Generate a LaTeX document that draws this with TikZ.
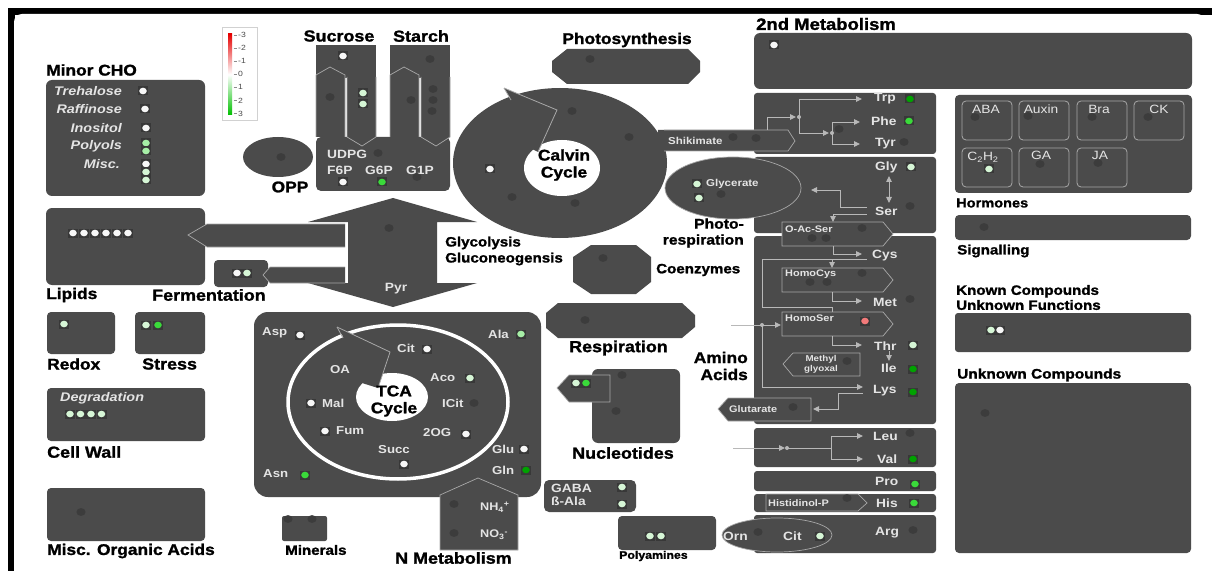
\documentclass[tikz,border=0pt]{standalone}
\usepackage{fontspec}
\newfontfamily\hf{Liberation Sans}[FakeStretch=1.15]
\newfontfamily\hdf{Liberation Sans Bold}[FakeStretch=1.12, FakeBold=1.4]
\usetikzlibrary{arrows.meta}
\definecolor{pan}{HTML}{4B4B4B}
\definecolor{edge}{HTML}{A8A8A8}
\definecolor{lnc}{HTML}{B8B8B8}
\definecolor{lbc}{HTML}{E4E4E4}
\definecolor{gdc}{HTML}{3C3C3C}
\definecolor{dotbg}{HTML}{383838}
\definecolor{wd}{HTML}{F7F7F7}
\definecolor{pg}{HTML}{D6F6D6}
\definecolor{lgr}{HTML}{A6EEA6}
\definecolor{mg}{HTML}{3ADA3A}
\definecolor{dg}{HTML}{00A200}
\definecolor{rd}{HTML}{F27A7A}
\newcommand\HDs[1]{\hdf\fontsize{#1}{#1}\selectfont}
\newcommand\HFs[1]{\hf\bfseries\fontsize{#1}{#1}\selectfont}
\newcommand\ITs[1]{\hf\bfseries\itshape\fontsize{#1}{#1}\selectfont}
\newcommand\RGs[1]{\hf\fontsize{#1}{#1}\selectfont}
\newcommand\mdot[3]{\fill[dotbg] ({#1-5},{#2-4.5}) rectangle ({#1+5},{#2+4.5}); \fill[#3] (#1,#2) ellipse (3.8 and 3.3);}
\newcommand\ndot[2]{\fill[gdc] (#1,#2) ellipse (4.6 and 3.9);}
\tikzset{
  hd/.style={font=\HDs{#1}, text=black, inner sep=0pt},
  hd/.default=15.5,
  lb/.style={font=\HFs{#1}, text=lbc, inner sep=0pt},
  lb/.default=11.5,
  itl/.style={font=\ITs{#1}, text=lbc, inner sep=0pt},
  itl/.default=12.5,
  rg/.style={font=\RGs{#1}, text=lbc, inner sep=0pt},
  rg/.default=12,
  panel/.style={fill=pan},
  outl/.style={fill=pan, draw=edge, line width=0.7pt},
  ln/.style={draw=lnc, line width=0.9pt},
  arr/.style={draw=lnc, line width=0.9pt, -{Triangle[length=6pt,width=5.5pt]}},
  junc/.style={fill=lnc},
}
\begin{document}
\begin{tikzpicture}[x=1pt,y=-1pt]
\useasboundingbox (0,0) rectangle (1212,572);
\fill[white] (0,0) rectangle (1212,572);
\fill[black] (8,8) rectangle (1212,15);
\fill[black] (8,8) rectangle (15,571);
\fill[white, rounded corners=8] (14,590) -- (14,14) -- (1205,14) -- (1205,590) -- cycle;

% ---------- legend
\filldraw[fill=white, draw=black!18, line width=1pt] (222,28) rectangle (257,121);
\shade[top color=red!90!black, bottom color=green!75!black, middle color=white] (228,34) rectangle (232,115);
\foreach \v [count=\i from 0] in {-3,-2,-1,0,1,2,3} {
  \draw[black!45, line width=0.6pt] (233.5,{35+13.1*\i}) -- (236.5,{35+13.1*\i});
  \node[font=\RGs{7.5}, text=black!70, anchor=west, inner sep=0pt] (leg\i) at (238,{35+13.1*\i}) {\v};
}

% ---------- Minor CHO
\node[hd, anchor=west] (tMinor) at (46,70) {Minor CHO};
\fill[panel, rounded corners=6] (46,80) rectangle (205,196);
\node[itl, anchor=east] (cTre) at (122,91) {Trehalose};
\node[itl, anchor=east] (cRaf) at (122,109) {Raffinose};
\node[itl, anchor=east] (cIno) at (122,128) {Inositol};
\node[itl, anchor=east] (cPol) at (122,146) {Polyols};
\node[itl, anchor=east] (cMis) at (120,164) {Misc.};
\mdot{143}{91}{wd} \mdot{145}{109}{wd} \mdot{146}{128}{wd}
\mdot{146}{143}{lgr} \mdot{146}{151}{lgr}
\mdot{146}{164}{wd} \mdot{146}{172}{pg} \mdot{146}{180}{pg}

% ---------- OPP
\fill[panel] (278,157) ellipse (35 and 20);
\ndot{281}{157}
\node[hd] (tOPP) at (290,187) {OPP};

% ---------- Sucrose / Starch
\node[hd=16] (tSuc) at (339,36) {Sucrose};
\node[hd=16] (tSta) at (421,36) {Starch};
\fill[panel] (316,45) rectangle (376,78);
\fill[panel] (390,45) rectangle (450,78);
\fill[panel, rounded corners=5] (316,137) rectangle (450,191);
\fill[panel] (316,137) -- (316,75) -- (330,67) -- (345,75) -- (345,137) -- cycle;
\draw[edge, line width=0.7pt] (316,137) -- (316,75) -- (330,67) -- (345,75) -- (345,137);
\fill[panel] (347,77) -- (376,77) -- (376,137) -- (362,146) -- (347,137) -- cycle;
\draw[edge, line width=0.7pt] (347,77) -- (347,137) -- (362,146) -- (376,137) -- (376,77);
\fill[panel] (390,137) -- (390,75) -- (404,67) -- (419,75) -- (419,137) -- cycle;
\draw[edge, line width=0.7pt] (390,137) -- (390,75) -- (404,67) -- (419,75) -- (419,137);
\fill[panel] (421,77) -- (450,77) -- (450,137) -- (436,146) -- (421,137) -- cycle;
\draw[edge, line width=0.7pt] (421,77) -- (421,137) -- (436,146) -- (450,137) -- (450,77);
\mdot{343}{56}{wd}
\mdot{363}{93}{pg} \mdot{363}{104}{pg}
\ndot{330}{97}
\ndot{430}{59} \ndot{411}{100} \ndot{433}{89} \ndot{433}{100} \ndot{432}{111}
\node[lb=12, anchor=west] (sUDPG) at (327,154) {UDPG};
\node[lb=12, anchor=west] (sF6P) at (327,170) {F6P};
\node[lb=12, anchor=west] (sG6P) at (365,170) {G6P};
\node[lb=12, anchor=west] (sG1P) at (406,170) {G1P};
\ndot{378}{153}
\mdot{343}{182}{wd} \mdot{382}{182}{mg}
\ndot{417}{177}

% ---------- Calvin cycle
\fill[panel] (560,163) ellipse (107 and 75);
\fill[white] (562,168) ellipse (38 and 28);
\fill[panel] (504,88) -- (557,110) -- (538,152) -- (526,146) -- (513,103) -- cycle;
\draw[edge, line width=0.8pt] (504,88) -- (557,110) -- (538,152);
\draw[edge, line width=0.8pt] (504,88) -- (511,100);
\node[hd, align=center] (tCalvin) at (564,165) {Calvin\\[1.5pt]Cycle};
\ndot{572}{111} \mdot{490}{169}{wd} \ndot{512}{197} \ndot{575}{203} \ndot{629}{137}

% ---------- Photosynthesis
\node[hd] (tPhot) at (627,40) {Photosynthesis};
\fill[panel] (567,49) -- (688,49) -- (700,61) -- (700,72) -- (688,84) -- (567,84) -- (552,72) -- (552,61) -- cycle;
\ndot{590}{59}

% ---------- 2nd metabolism
\node[hd=16.5, anchor=west] (t2nd) at (756,24) {2nd Metabolism};
\fill[panel, rounded corners=6] (754,33) rectangle (1192,89);
\mdot{774}{45}{wd}

% ---------- amino acid boxes
\foreach \ya/\yb in {93/154, 157/233, 236/424, 428/467, 471/491, 494/512, 515/553}
  \fill[panel, rounded corners=3] (754,\ya) rectangle (936,\yb);

% Shikimate
\fill[panel] (658,130) -- (788,130) -- (795,141) -- (788,151) -- (658,151) -- cycle;
\draw[edge, line width=0.7pt] (664,130) -- (788,130) -- (795,141) -- (788,151) -- (664,151);
\node[lb=10, anchor=west] (shik) at (668,141) {Shikimate};
\ndot{733}{137} \ndot{756}{138}
% aromatic
\draw[arr] (767,130) -- (767,117) -- (796,117);
\fill[junc] (799,117) circle (2);
\draw[arr] (799,117) -- (799,99) -- (862,99);
\draw[arr] (799,117) -- (799,133) -- (829,133);
\fill[junc] (832,133) circle (2);
\draw[arr] (832,133) -- (832,122) -- (860,122);
\draw[arr] (832,133) -- (832,144) -- (860,144);
\node[lb=12, anchor=west] (aTrp) at (874,99) {Trp};
\node[lb=12, anchor=west] (aPhe) at (871,121) {Phe};
\node[lb=12, anchor=west] (aTyr) at (875,144) {Tyr};
\mdot{910}{99}{dg} \mdot{909}{121}{mg} \ndot{904}{142} \ndot{839}{129}

% photorespiration
\filldraw[outl] (733,188) ellipse (68 and 31);
\node[lb=10, anchor=west] (glyc) at (706,184) {Glycerate};
\mdot{697}{184}{pg} \mdot{699}{198}{pg} \ndot{721}{194}
\node[hd=14, anchor=east, align=right] (tPhr) at (744,233) {Photo-\\[2pt]respiration};
\node[lb=12, anchor=west] (aGly) at (875,167) {Gly};
\node[lb=12, anchor=west] (aSer) at (875,211) {Ser};
\mdot{911}{167}{pg} \ndot{910}{206}
\draw[ln, {Triangle[length=6pt,width=5.5pt]}-{Triangle[length=6pt,width=5.5pt]}] (889,176) -- (889,203);
\draw[arr] (867,207) -- (840,207) -- (840,190) -- (811,190);
\draw[arr] (867,214) -- (833,214) -- (833,222);
% O-Ac-Ser
\filldraw[outl] (782,222) -- (883,222) -- (893,234) -- (883,246) -- (782,246) -- cycle;
\node[lb=9.5, anchor=west] (oac) at (785,229) {O-Ac-Ser};
\ndot{862}{228} \ndot{812}{238} \ndot{826}{238}
\draw[arr] (833,246) -- (833,254) -- (862,254);
\node[lb=12, anchor=west] (aCys) at (872,256) {Cys};
\draw[ln] (867,259) -- (762,259) -- (762,307) -- (832,307) -- (832,312);
\draw[arr] (832,259) -- (832,268);
% HomoCys
\filldraw[outl] (782,268) -- (883,268) -- (893,280) -- (883,292) -- (782,292) -- cycle;
\node[lb=9.5, anchor=west] (hcys) at (785,274) {HomoCys};
\ndot{862}{273} \ndot{810}{282} \ndot{827}{282}
\draw[arr] (832,292) -- (832,301) -- (862,301);
\node[lb=12, anchor=west] (aMet) at (873,302) {Met};
\ndot{910}{299}
% HomoSer
\filldraw[outl] (782,312) -- (883,312) -- (893,324) -- (883,336) -- (782,336) -- cycle;
\node[lb=9.5, anchor=west] (hser) at (785,318) {HomoSer};
\mdot{865}{321}{rd}
\draw[arr] (731,325) -- (781,325);
\fill[junc] (762,325) circle (2);
\draw[arr] (762,325) -- (762,387) -- (863,387);
\draw[arr] (832,336) -- (832,345) -- (862,345);
\node[lb=12, anchor=west] (aThr) at (874,346) {Thr};
\mdot{913}{345}{pg}
\draw[arr] (889,351) -- (889,361);
\node[lb=12, anchor=west] (aIle) at (881,368) {Ile};
\mdot{913}{369}{dg}
% Methyl glyoxal
\filldraw[outl] (783,364) -- (793,353) -- (860,353) -- (860,376) -- (793,376) -- cycle;
\node[lb=8.5, align=center] (mgly) at (821,364.5) {Methyl\\[1pt]glyoxal};
\ndot{847}{361}
\node[lb=12, anchor=west] (aLys) at (873,391) {Lys};
\mdot{913}{392}{dg}
% Glutarate
\filldraw[outl] (718,409) -- (728,398) -- (811,398) -- (811,421) -- (728,421) -- cycle;
\node[lb=9.5, anchor=west] (glut) at (729,409) {Glutarate};
\ndot{793}{407}
\draw[arr] (863,393) -- (838,393) -- (838,409) -- (813,409);
\node[hd, anchor=east, align=right] (tAmino) at (748,366) {Amino\\[1.5pt]Acids};
% Leu / Val
\draw[arr] (733,448) -- (785,448);
\fill[junc] (787,448) circle (2);
\draw[ln] (787,448) -- (831,448);
\draw[arr] (831,448) -- (831,436) -- (863,436);
\draw[arr] (831,448) -- (831,459) -- (863,459);
\node[lb=12, anchor=west] (aLeu) at (873,436) {Leu};
\node[lb=12, anchor=west] (aVal) at (877,459) {Val};
\ndot{910}{433} \mdot{913}{459}{dg}
% Pro / His / Arg
\node[lb=12, anchor=west] (aPro) at (875,481) {Pro};
\mdot{915}{484}{mg}
\filldraw[outl] (766,494) -- (858,494) -- (867,503) -- (858,511) -- (766,511) -- cycle;
\node[lb=9.5, anchor=west] (hisp) at (768,503) {Histidinol-P};
\ndot{847}{498}
\node[lb=12, anchor=west] (aHis) at (876,503) {His};
\mdot{914}{503}{mg}
\node[lb=12, anchor=west] (aArg) at (875,533) {Arg};
\ndot{913}{530}
\filldraw[outl] (777,535) ellipse (55 and 17);
\node[lb=12, anchor=west] (aOrn) at (723,536) {Orn};
\node[lb=12, anchor=west] (aCit2) at (783,536) {Cit};
\ndot{758}{532} \mdot{820}{536}{pg}

% ---------- Hormones
\fill[panel, rounded corners=4] (955,95) rectangle (1192,193);
\foreach \xa/\ya in {962/101, 1019/101, 1077/101, 1134/101, 962/148, 1019/148, 1077/148}
  \draw[edge, line width=0.8pt, rounded corners=4] (\xa,\ya) rectangle ({\xa+50},{\ya+39});
\node[rg] (hABA) at (986,109) {ABA};
\node[rg] (hAux) at (1041,109) {Auxin};
\node[rg] (hBra) at (1099,109) {Bra};
\node[rg] (hCK) at (1159,109) {CK};
\node[rg] (hC2) at (983,157) {C\textsubscript{2}H\textsubscript{2}};
\node[rg] (hGA) at (1041,155) {GA};
\node[rg] (hJA) at (1100,155) {JA};
\ndot{975}{117} \ndot{1028}{116} \ndot{1092}{117} \ndot{1148}{117}
\ndot{1040}{164} \ndot{1098}{163} \mdot{989}{169}{pg}
\node[hd=13, anchor=west] (tHorm) at (956,203) {Hormones};
\fill[panel, rounded corners=4] (955,215) rectangle (1191,240);
\ndot{984}{227}
\node[hd=13.5, anchor=west] (tSig) at (957,251) {Signalling};
\node[hd=13.5, anchor=west, align=left] (tKnown) at (956,297.5) {Known Compounds\\[1.5pt]Unknown Functions};
\fill[panel, rounded corners=3] (955,313) rectangle (1191,352);
\mdot{991}{330}{pg} \mdot{1000}{330}{wd}
\node[hd=13.8, anchor=west] (tUnk) at (957,375) {Unknown Compounds};
\fill[panel, rounded corners=4] (955,383) rectangle (1191,553);
\ndot{985}{413}

% ---------- Glycolysis
\fill[panel] (393,198) -- (477,222) -- (437,222) -- (437,283) -- (477,283) -- (393,307) -- (308,283) -- (348,283) -- (348,222) -- (308,222) -- cycle;
\ndot{389}{228}
\node[lb=12] (pyr) at (396,289) {Pyr};
\node[hd=13.5, anchor=west, align=left] (tGly) at (445,251) {Glycolysis\\[2.5pt]Gluconeogensis};

% ---------- Lipids / Fermentation
\fill[panel, rounded corners=6] (46,208) rectangle (205,285);
\filldraw[outl] (345,224) -- (207,224) -- (188,235) -- (207,247) -- (345,247);
\foreach \xx in {73,84,95,106,117,128} {\mdot{\xx}{233}{wd}}
\fill[panel, rounded corners=4] (214,260) rectangle (268,287);
\filldraw[outl] (345,267) -- (270,267) -- (263,275) -- (270,283) -- (345,283);
\mdot{237}{273}{wd} \mdot{247}{273}{pg}
\node[hd, anchor=west] (tLip) at (46,295) {Lipids};
\node[hd=16, anchor=west] (tFer) at (152,295) {Fermentation};

% ---------- Redox / Stress / Cell wall / Misc
\fill[panel, rounded corners=4] (47,312) rectangle (115,354);
\mdot{64}{324}{pg}
\fill[panel, rounded corners=4] (135,312) rectangle (205,354);
\mdot{146}{325}{pg} \mdot{158}{325}{mg}
\node[hd, anchor=west] (tRed) at (47,364) {Redox};
\node[hd=16, anchor=west] (tStr) at (142,364) {Stress};
\fill[panel, rounded corners=4] (47,388) rectangle (205,441);
\node[itl=12.5, anchor=west] (deg) at (60,398) {Degradation};
\foreach \xx in {70,80.5,91,101.5} {\mdot{\xx}{414}{pg}}
\node[hd=16, anchor=west] (tCW) at (47,452) {Cell Wall};
\fill[panel, rounded corners=4] (47,488) rectangle (205,541);
\ndot{81}{512}
\node[hd, anchor=west] (tMOA) at (47,551) {Misc. Organic Acids};

% ---------- TCA
\fill[panel, rounded corners=14] (254,312) rectangle (541,497);
\draw[white, line width=3.5pt] (398,402) ellipse (110 and 77);
\fill[white] (392,397) ellipse (36 and 24);
\fill[panel] (337,327) -- (390,352) -- (378,388) -- (362,383) -- (344,338) -- cycle;
\draw[edge, line width=0.8pt] (337,327) -- (390,352) -- (378,388);
\draw[edge, line width=0.8pt] (337,327) -- (343,338);
\node[hd, align=center] (tTCA) at (394,401) {TCA\\[1.5pt]Cycle};
\node[lb, anchor=west] (tAsp) at (262,333) {Asp};   \mdot{300}{335}{wd}
\node[lb, anchor=west] (tCit) at (397,348) {Cit};   \mdot{427}{349}{wd}
\node[lb, anchor=west] (tAla) at (488,334) {Ala};   \mdot{521}{334}{lgr}
\node[lb, anchor=west] (tOA) at (330,370) {OA};
\node[lb, anchor=west] (tAco) at (430,378) {Aco};   \mdot{470}{378}{pg}
\node[lb, anchor=west] (tMal) at (322,403) {Mal};   \mdot{311}{403}{wd}
\node[lb, anchor=west] (tICit) at (442,403) {ICit}; \ndot{474}{403}
\node[lb, anchor=west] (tFum) at (336,431) {Fum};   \mdot{325}{431}{wd}
\node[lb, anchor=west] (t2OG) at (423,433) {2OG};   \mdot{466}{434}{wd}
\node[lb, anchor=west] (tSucc) at (378,450) {Succ}; \mdot{404}{464}{wd}
\node[lb, anchor=west] (tGlu) at (492,449) {Glu};   \mdot{524}{449}{wd}
\node[lb, anchor=west] (tGln) at (492,470) {Gln};   \mdot{526}{470}{dg}
\node[lb, anchor=west] (tAsn) at (263,474) {Asn};   \mdot{305}{475}{mg}

% ---------- N metabolism / Minerals
\filldraw[outl] (440,495) -- (478,478) -- (518,495) -- (518,550) -- (440,550) -- cycle;
\node[lb=11, anchor=west] (nNH) at (480,507) {NH\textsubscript{4}\textsuperscript{+}};
\node[lb=11, anchor=west] (nNO) at (480,535) {NO\textsubscript{3}\textsuperscript{-}};
\ndot{454}{504} \ndot{454}{533}
\node[hd=16, anchor=west] (tNM) at (395,558) {N Metabolism};
\fill[panel, rounded corners=2] (282,516) rectangle (327,541);
\ndot{288}{519} \ndot{312}{519}
\node[hd=13.5, anchor=west] (tMin) at (285,550) {Minerals};

% ---------- Coenzymes / Respiration / Nucleotides
\fill[panel] (591,245) -- (636,245) -- (651,257) -- (651,282) -- (636,294) -- (591,294) -- (573,282) -- (573,257) -- cycle;
\ndot{603}{258}
\node[hd=13.5, anchor=west] (tCoe) at (656,270) {Coenzymes};
\fill[panel] (558,303) -- (682,303) -- (695,315) -- (695,327) -- (682,338) -- (558,338) -- (546,328) -- (546,313) -- cycle;
\ndot{585}{320}
\node[hd=16, anchor=west] (tRes) at (569,348) {Respiration};
\fill[panel, rounded corners=6] (592,369) rectangle (680,443);
\filldraw[outl] (557,388) -- (569,375) -- (610,375) -- (610,402) -- (569,402) -- cycle;
\mdot{576}{383}{pg} \mdot{586}{383}{mg}
\ndot{622}{375} \ndot{616}{411}
\node[hd=16, anchor=west] (tNuc) at (572,453) {Nucleotides};

% ---------- GABA / Polyamines
\fill[panel, rounded corners=5] (544,480) rectangle (636,512);
\node[lb=12, anchor=west] (gaba) at (551,488) {GABA};
\node[lb=12, anchor=west] (bala) at (551,501) {ß-Ala};
\mdot{622}{487}{pg} \mdot{622}{504}{pg}
\fill[panel, rounded corners=4] (618,516) rectangle (716,550);
\mdot{650}{536}{pg} \mdot{661}{536}{pg}
\node[hd=11, anchor=west] (tPoly) at (619,556) {Polyamines};
\end{tikzpicture}
\end{document}
